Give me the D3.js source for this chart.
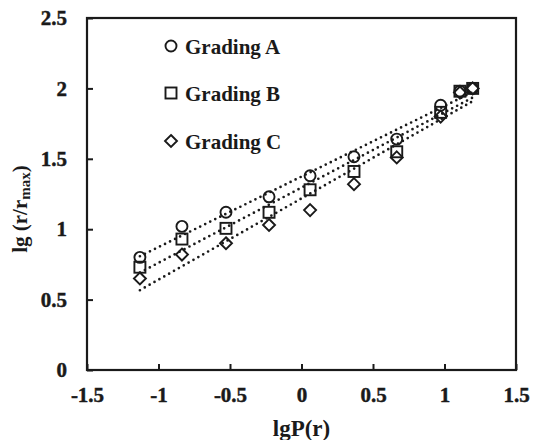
<!DOCTYPE html>
<html>
<head>
<meta charset="utf-8">
<script src="https://cdn.jsdelivr.net/npm/d3@7"></script>
<style>
  html, body { margin: 0; padding: 0; background: #fff; }
  svg { display: block; }
  text { font-family: "Liberation Serif", "Times New Roman", serif; font-weight: bold; fill: #1a1a1a; }
  .tick text { stroke: #1a1a1a; stroke-width: 0.45px; }
</style>
</head>
<body>
<svg id="chart" width="533" height="440"></svg>
<script>
// lgP(r) positions of the sieve sizes
const lgP = [-1.13, -0.836, -0.528, -0.227, 0.06, 0.367, 0.666, 0.973, 1.108, 1.197];
// lg(r/rmax) for each grading
const gradingA = [0.80, 1.02, 1.12, 1.23, 1.38, 1.515, 1.64, 1.88, 1.98, 2.00];
const gradingB = [0.73, 0.93, 1.006, 1.12, 1.28, 1.41, 1.55, 1.83, 1.98, 2.00];
const gradingC = [0.65, 0.82, 0.90, 1.03, 1.136, 1.32, 1.51, 1.80, 1.97, 2.00];
const seriesNames = ["Grading A", "Grading B", "Grading C"];
const markerShapes = ["circle", "square", "diamond"];
const xTicks = [-1.5, -1, -0.5, 0, 0.5, 1, 1.5];
const yTicks = [0, 0.5, 1, 1.5, 2, 2.5];

const svg = d3.select("#chart");
const margin = { left: 87, top: 18, right: 17, bottom: 70 };
const W = 533, H = 440;
const x = d3.scaleLinear().domain([-1.5, 1.5]).range([margin.left, W - margin.right]);
const y = d3.scaleLinear().domain([0, 2.5]).range([H - margin.bottom, margin.top]);
const ink = "#1a1a1a";
const fmt = d => String(d);

// x axis with inward ticks
const xAxis = svg.append("g")
  .attr("transform", `translate(0,${y(0)})`)
  .call(d3.axisBottom(x).tickValues(xTicks).tickSize(-6).tickPadding(17).tickFormat(fmt));
xAxis.select(".domain").remove();
xAxis.selectAll("line").attr("stroke", ink).attr("stroke-width", 2);
xAxis.selectAll("text").attr("font-size", 21).attr("font-weight", "bold")
  .attr("dy", "0.72em").attr("font-family", null).attr("fill", ink);

// y axis with inward ticks
const yAxis = svg.append("g")
  .attr("transform", `translate(${x(-1.5)},0)`)
  .call(d3.axisLeft(y).tickValues(yTicks).tickSize(-6).tickPadding(20).tickFormat(fmt));
yAxis.select(".domain").remove();
yAxis.selectAll("line").attr("stroke", ink).attr("stroke-width", 2);
yAxis.selectAll("text").attr("font-size", 21).attr("font-weight", "bold")
  .attr("font-family", null).attr("fill", ink);

// plot frame
svg.append("rect")
  .attr("x", x(-1.5)).attr("y", y(2.5))
  .attr("width", x(1.5) - x(-1.5)).attr("height", y(0) - y(2.5))
  .attr("fill", "none").attr("stroke", ink).attr("stroke-width", 2.2);

const allSeries = [gradingA, gradingB, gradingC];

// least-squares trend lines, dotted
allSeries.forEach(vals => {
  const n = lgP.length;
  const mx = d3.mean(lgP), my = d3.mean(vals);
  let sxy = 0, sxx = 0;
  for (let i = 0; i < n; i++) { sxy += (lgP[i] - mx) * (vals[i] - my); sxx += (lgP[i] - mx) ** 2; }
  const b = sxy / sxx, a = my - b * mx;
  const x0 = d3.min(lgP), x1 = d3.max(lgP);
  svg.append("line")
    .attr("x1", x(x0)).attr("y1", y(a + b * x0))
    .attr("x2", x(x1)).attr("y2", y(a + b * x1))
    .attr("stroke", ink).attr("stroke-width", 2.7)
    .attr("stroke-linecap", "round").attr("stroke-dasharray", "0,5.6");
});

// marker drawing helper
function drawMarker(g, shape, cx, cy) {
  if (shape === "circle") {
    g.append("circle").attr("cx", cx).attr("cy", cy).attr("r", 5.5);
  } else if (shape === "square") {
    g.append("rect").attr("x", cx - 5.5).attr("y", cy - 5.5).attr("width", 11).attr("height", 11);
  } else {
    const s = 6;
    g.append("path").attr("d", `M${cx},${cy - s}L${cx + s},${cy}L${cx},${cy + s}L${cx - s},${cy}Z`);
  }
}

allSeries.forEach((vals, si) => {
  const g = svg.append("g").attr("fill", "none").attr("stroke", ink).attr("stroke-width", 1.9);
  vals.forEach((v, i) => drawMarker(g, markerShapes[si], x(lgP[i]), y(v)));
});

// legend
const legendRows = [46, 93, 141];
seriesNames.forEach((name, i) => {
  const g = svg.append("g").attr("fill", "none").attr("stroke", ink).attr("stroke-width", 1.9);
  drawMarker(g, markerShapes[i], 171, legendRows[i]);
  svg.append("text").attr("x", 185).attr("y", legendRows[i] + 8)
    .attr("font-size", 21).text(name);
});

// axis titles
svg.append("text")
  .attr("x", x(0)).attr("y", 436)
  .attr("text-anchor", "middle").attr("font-size", 23)
  .text("lgP(r)");

const yl = svg.append("text")
  .attr("transform", `translate(27,${(y(0) + y(2.5)) / 2 + 15}) rotate(-90)`)
  .attr("text-anchor", "middle").attr("font-size", 21);
yl.append("tspan").text("lg (r/r");
yl.append("tspan").attr("font-size", 15).attr("dy", 3).text("max");
yl.append("tspan").attr("dy", -3).text(")");
</script>
</body>
</html>
